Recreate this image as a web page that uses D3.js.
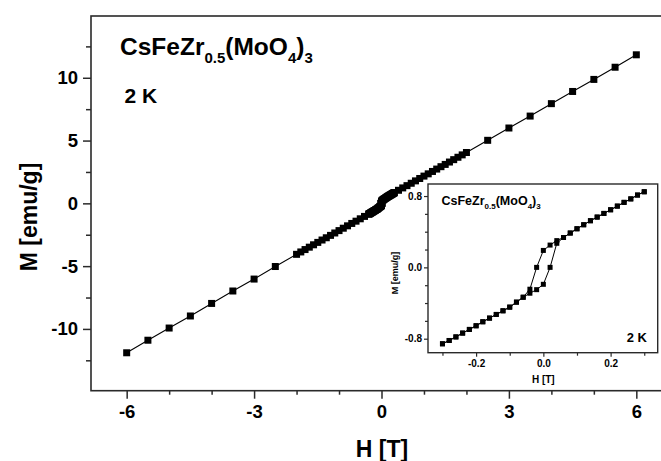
<!DOCTYPE html>
<html>
<head>
<meta charset="utf-8">
<script src="https://cdn.jsdelivr.net/npm/d3@7"></script>
<style>
  body { margin: 0; background: #fff; }
  svg { display: block; font-family: "Liberation Sans", Arial, sans-serif; font-weight: bold; }
</style>
</head>
<body>
<svg></svg>
<script>
// M(H) at 2 K, field swept down from +6 T
var sweepPosH = [6, 5.5, 5, 4.5, 4, 3.5, 3, 2.5, 2, 1.9, 1.8, 1.7, 1.6, 1.5, 1.4, 1.3, 1.2, 1.1, 1.0, 0.9, 0.8, 0.7, 0.6, 0.5, 0.4];
var sweepPosM = [11.83, 10.84, 9.87, 8.91, 7.94, 6.95, 6.0, 5.02, 4.05, 3.86, 3.67, 3.48, 3.29, 3.10, 2.92, 2.73, 2.54, 2.35, 2.17, 1.98, 1.79, 1.60, 1.41, 1.23, 1.04];
var sweepNegH = [-0.4, -0.5, -0.6, -0.7, -0.8, -0.9, -1.0, -1.1, -1.2, -1.3, -1.4, -1.5, -1.6, -1.7, -1.8, -1.9, -2, -2.5, -3, -3.5, -4, -4.5, -5, -5.5, -6];
var sweepNegM = [-1.04, -1.23, -1.42, -1.60, -1.79, -1.98, -2.17, -2.36, -2.55, -2.74, -2.92, -3.11, -3.30, -3.49, -3.68, -3.87, -4.06, -5.03, -6.03, -6.98, -7.97, -8.97, -9.93, -10.9, -11.9];

// low field loop (inset)
var loopH = [-0.30, -0.28, -0.26, -0.24, -0.22, -0.20, -0.18, -0.16, -0.14, -0.12, -0.10, -0.08, -0.06, -0.04, -0.02, 0, 0.02, 0.04, 0.06, 0.08, 0.10, 0.12, 0.14, 0.16, 0.18, 0.20, 0.22, 0.24, 0.26, 0.28, 0.30];
var loopDownM = [-0.857, -0.820, -0.780, -0.737, -0.696, -0.655, -0.610, -0.569, -0.528, -0.487, -0.446, -0.390, -0.335, -0.245, 0.000, 0.190, 0.250, 0.300, 0.335, 0.385, 0.433, 0.478, 0.523, 0.564, 0.605, 0.646, 0.687, 0.729, 0.768, 0.811, 0.848];
var loopUpM = [-0.857, -0.820, -0.780, -0.737, -0.696, -0.655, -0.610, -0.569, -0.528, -0.487, -0.446, -0.390, -0.335, -0.290, -0.250, -0.190, 0.000, 0.270, 0.335, 0.385, 0.433, 0.478, 0.523, 0.564, 0.605, 0.646, 0.687, 0.729, 0.768, 0.811, 0.848];

var xMajor = [-6, -3, 0, 3, 6], xMinor = [-5, -4, -2, -1, 1, 2, 4, 5];
var yMajor = [-10, -5, 0, 5, 10], yMinor = [-12.5, -7.5, -2.5, 2.5, 7.5, 12.5];
var ixMajor = [-0.2, 0, 0.2], ixMinor = [-0.3, -0.1, 0.1, 0.3];
var iyMajor = [-0.8, 0, 0.8], iyMinor = [-0.6, -0.4, -0.2, 0.2, 0.4, 0.6];

var svgWidth = 661, svgHeight = 461;
var svg = d3.select('svg')
  .attr('width', svgWidth)
  .attr('height', svgHeight);

var font = '"Liberation Sans", Arial, sans-serif';
var frameColor = '#2a2a2a';

// ---------- main plot ----------
var xScale = d3.scaleLinear().domain([-6.84, 6.84]).range([91, 672]);
var yScale = d3.scaleLinear().domain([-14.92, 14.92]).range([390.7, 16]);

function styleAxis(g, size) {
  g.select('.domain').remove();
  g.attr('font-family', font).attr('font-weight', 'bold').attr('font-size', size);
  g.selectAll('line').attr('stroke', frameColor).attr('stroke-width', 1.5);
  g.selectAll('text').attr('fill', '#000');
}

svg.append('g')
  .attr('transform', 'translate(0,' + yScale.range()[0] + ')')
  .call(d3.axisBottom(xScale).tickValues(xMajor).tickSize(8).tickPadding(6).tickFormat(function(d){ return String(d); }))
  .call(styleAxis, 18.5);
svg.append('g')
  .attr('transform', 'translate(0,' + yScale.range()[0] + ')')
  .call(d3.axisBottom(xScale).tickValues(xMinor).tickSize(4).tickFormat(''))
  .call(styleAxis, 18.5);
svg.append('g')
  .attr('transform', 'translate(' + xScale.range()[0] + ',0)')
  .call(d3.axisLeft(yScale).tickValues(yMajor).tickSize(8).tickPadding(5).tickFormat(function(d){ return String(d); }))
  .call(styleAxis, 18.5);
svg.append('g')
  .attr('transform', 'translate(' + xScale.range()[0] + ',0)')
  .call(d3.axisLeft(yScale).tickValues(yMinor).tickSize(5).tickFormat(''))
  .call(styleAxis, 18.5);

// frame (right side falls outside the picture)
svg.append('rect')
  .attr('x', xScale.range()[0])
  .attr('y', yScale.range()[1])
  .attr('width', xScale.range()[1] - xScale.range()[0])
  .attr('height', yScale.range()[0] - yScale.range()[1])
  .attr('fill', 'none')
  .attr('stroke', frameColor)
  .attr('stroke-width', 1.6);

var mainH = sweepPosH.concat(loopH.slice().reverse()).concat(sweepNegH);
var mainM = sweepPosM.concat(loopDownM.slice().reverse()).concat(sweepNegM);
var mainData = mainH.map(function(h, i){ return [h, mainM[i]]; });
var mainUp = loopH.map(function(h, i){ return [h, loopUpM[i]]; });

var line = d3.line()
  .x(function(d){ return xScale(d[0]); })
  .y(function(d){ return yScale(d[1]); });

svg.append('path').datum(mainData).attr('d', line)
  .attr('fill', 'none').attr('stroke', '#000').attr('stroke-width', 1.1);
svg.append('path').datum(mainUp).attr('d', line)
  .attr('fill', 'none').attr('stroke', '#000').attr('stroke-width', 1.1);

var ms = 7;
svg.append('g').selectAll('rect')
  .data(mainData.concat(mainUp))
  .enter()
  .append('rect')
  .attr('x', function(d){ return xScale(d[0]) - ms / 2; })
  .attr('y', function(d){ return yScale(d[1]) - ms / 2; })
  .attr('width', ms)
  .attr('height', ms)
  .attr('fill', '#000');

// titles
var title = svg.append('text').attr('x', 120).attr('y', 54.5).attr('font-size', 24.5);
title.append('tspan').text('CsFeZr');
title.append('tspan').attr('font-size', 15).attr('dy', 8).text('0.5');
title.append('tspan').attr('dy', -8).text('(MoO');
title.append('tspan').attr('font-size', 15).attr('dy', 8).text('4');
title.append('tspan').attr('dy', -8).text(')');
title.append('tspan').attr('font-size', 15).attr('dy', 8).text('3');

svg.append('text').attr('x', 124.5).attr('y', 102.5).attr('font-size', 21).text('2 K');

svg.append('text')
  .attr('x', 382).attr('y', 457)
  .attr('text-anchor', 'middle')
  .attr('font-size', 23)
  .text('H [T]');
svg.append('text')
  .attr('transform', 'translate(37,217) rotate(-90)')
  .attr('text-anchor', 'middle')
  .attr('font-size', 23)
  .text('M [emu/g]');

// ---------- inset ----------
var ixScale = d3.scaleLinear().domain([-0.343, 0.34]).range([428, 657.7]);
var iyScale = d3.scaleLinear().domain([-0.957, 0.935]).range([352.7, 184]);

var inset = svg.append('g');
inset.append('rect')
  .attr('x', ixScale.range()[0])
  .attr('y', iyScale.range()[1])
  .attr('width', ixScale.range()[1] - ixScale.range()[0])
  .attr('height', iyScale.range()[0] - iyScale.range()[1])
  .attr('fill', '#fff');

var fmt1 = function(d){ return d.toFixed(1); };
inset.append('g')
  .attr('transform', 'translate(0,' + iyScale.range()[0] + ')')
  .call(d3.axisBottom(ixScale).tickValues(ixMajor).tickSize(4).tickPadding(3).tickFormat(fmt1))
  .call(styleAxis, 10);
inset.append('g')
  .attr('transform', 'translate(0,' + iyScale.range()[0] + ')')
  .call(d3.axisBottom(ixScale).tickValues(ixMinor).tickSize(3).tickFormat(''))
  .call(styleAxis, 10);
inset.append('g')
  .attr('transform', 'translate(' + ixScale.range()[0] + ',0)')
  .call(d3.axisLeft(iyScale).tickValues(iyMajor).tickSize(4).tickPadding(2).tickFormat(fmt1))
  .call(styleAxis, 10);
inset.append('g')
  .attr('transform', 'translate(' + ixScale.range()[0] + ',0)')
  .call(d3.axisLeft(iyScale).tickValues(iyMinor).tickSize(3).tickFormat(''))
  .call(styleAxis, 10);
inset.selectAll('line').attr('stroke-width', 1.2);

inset.append('rect')
  .attr('x', ixScale.range()[0])
  .attr('y', iyScale.range()[1])
  .attr('width', ixScale.range()[1] - ixScale.range()[0])
  .attr('height', iyScale.range()[0] - iyScale.range()[1])
  .attr('fill', 'none')
  .attr('stroke', frameColor)
  .attr('stroke-width', 1.4);

var iline = d3.line()
  .x(function(d){ return ixScale(d[0]); })
  .y(function(d){ return iyScale(d[1]); });
var downData = loopH.map(function(h, i){ return [h, loopDownM[i]]; });
var upData = loopH.map(function(h, i){ return [h, loopUpM[i]]; });

[downData, upData].forEach(function(ser){
  inset.append('path').datum(ser).attr('d', iline)
    .attr('fill', 'none').attr('stroke', '#000').attr('stroke-width', 1);
});

var ims = 5;
inset.append('g').selectAll('rect')
  .data(downData.concat(upData))
  .enter()
  .append('rect')
  .attr('x', function(d){ return ixScale(d[0]) - ims / 2; })
  .attr('y', function(d){ return iyScale(d[1]) - ims / 2; })
  .attr('width', ims)
  .attr('height', ims)
  .attr('fill', '#000');

var ititle = inset.append('text').attr('x', 441.5).attr('y', 205).attr('font-size', 12.5);
ititle.append('tspan').text('CsFeZr');
ititle.append('tspan').attr('font-size', 8).attr('dy', 3.5).text('0.5');
ititle.append('tspan').attr('dy', -3.5).text('(MoO');
ititle.append('tspan').attr('font-size', 8).attr('dy', 3.5).text('4');
ititle.append('tspan').attr('dy', -3.5).text(')');
ititle.append('tspan').attr('font-size', 8).attr('dy', 3.5).text('3');

inset.append('text').attr('x', 647).attr('y', 342).attr('text-anchor', 'end').attr('font-size', 13).text('2 K');
inset.append('text')
  .attr('x', 543.3).attr('y', 383)
  .attr('text-anchor', 'middle')
  .attr('font-size', 10)
  .text('H [T]');
inset.append('text')
  .attr('transform', 'translate(398,273) rotate(-90)')
  .attr('text-anchor', 'middle')
  .attr('font-size', 9)
  .text('M [emu/g]');
</script>
</body>
</html>
